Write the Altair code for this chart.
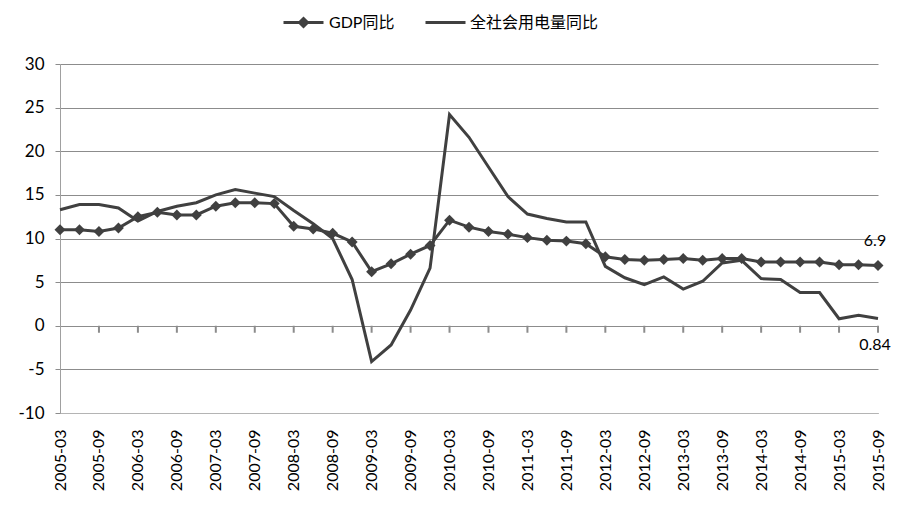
import altair as alt
import pandas as pd

quarters = [
    "2005-03", "2005-06", "2005-09", "2005-12",
    "2006-03", "2006-06", "2006-09", "2006-12",
    "2007-03", "2007-06", "2007-09", "2007-12",
    "2008-03", "2008-06", "2008-09", "2008-12",
    "2009-03", "2009-06", "2009-09", "2009-12",
    "2010-03", "2010-06", "2010-09", "2010-12",
    "2011-03", "2011-06", "2011-09", "2011-12",
    "2012-03", "2012-06", "2012-09", "2012-12",
    "2013-03", "2013-06", "2013-09", "2013-12",
    "2014-03", "2014-06", "2014-09", "2014-12",
    "2015-03", "2015-06", "2015-09",
]

gdp = [
    11.0, 11.0, 10.8, 11.2,
    12.5, 13.0, 12.7, 12.7,
    13.7, 14.1, 14.1, 14.0,
    11.4, 11.1, 10.6, 9.6,
    6.2, 7.1, 8.2, 9.2,
    12.1, 11.3, 10.8, 10.5,
    10.1, 9.8, 9.7, 9.4,
    7.9, 7.6, 7.5, 7.6,
    7.7, 7.5, 7.7, 7.7,
    7.3, 7.3, 7.3, 7.3,
    7.0, 7.0, 6.9,
]

elec = [
    13.3, 13.9, 13.9, 13.5,
    12.0, 13.1, 13.7, 14.1,
    15.0, 15.6, 15.2, 14.8,
    13.2, 11.7, 10.0, 5.3,
    -4.1, -2.2, 1.8, 6.6,
    24.2, 21.6, 18.2, 14.8,
    12.8, 12.3, 11.9, 11.9,
    6.8, 5.5, 4.7, 5.6,
    4.2, 5.1, 7.2, 7.5,
    5.4, 5.3, 3.8, 3.8,
    0.8, 1.2, 0.84,
]

tick_labels = [
    "2005-03", "2005-09", "2006-03", "2006-09", "2007-03", "2007-09",
    "2008-03", "2008-09", "2009-03", "2009-09", "2010-03", "2010-09",
    "2011-03", "2011-09", "2012-03", "2012-09", "2013-03", "2013-09",
    "2014-03", "2014-09", "2015-03", "2015-09",
]

y_ticks = [-10, -5, 0, 5, 10, 15, 20, 25, 30]

gdp_name = "GDP同比"
elec_name = "全社会用电量同比"

gdp_last_label = "6.9"
elec_last_label = "0.84"

FONT = "Lato, Noto Sans CJK SC, sans-serif"
DARK = "#404040"
GRID = "#8c8c8c"

gdp_df = pd.DataFrame({"quarter": quarters, "value": gdp, "series": gdp_name})
elec_df = pd.DataFrame({"quarter": quarters, "value": elec, "series": elec_name})
tick_df = pd.DataFrame({"quarter": tick_labels[1:], "base": 0.0})
gdp_annot_df = pd.DataFrame({"quarter": [quarters[-1]], "value": [gdp[-1]], "label": [gdp_last_label]})
elec_annot_df = pd.DataFrame({"quarter": [quarters[-1]], "value": [elec[-1]], "label": [elec_last_label]})

x_enc = alt.X(
    "quarter:O",
    sort=quarters,
    scale=alt.Scale(type="point", padding=0, domain=quarters),
    axis=alt.Axis(
        values=tick_labels,
        labelAngle=-90,
        labelFontSize=16,
        labelFont=FONT,
        labelColor="#000000",
        labelPadding=16,
        ticks=False,
        grid=False,
        domain=True,
        domainColor="#b4b4b4",
        title=None,
    ),
)

y_axis = alt.Axis(
    values=y_ticks,
    grid=True,
    gridColor=GRID,
    gridWidth=1,
    domainColor="#a0a0a0",
    tickColor=GRID,
    tickSize=5,
    labelFontSize=17,
    labelFont=FONT,
    labelColor="#000000",
    labelPadding=11,
    labelExpr="toString(datum.value)",
    title=None,
)
y_scale = alt.Scale(domain=[-10, 30], nice=False, zero=False)
y_enc = alt.Y("value:Q", scale=y_scale, axis=y_axis)

gdp_path = "M-1,0H1M0,-0.2L0.2,0L0,0.2L-0.2,0ZM0,-0.1L0.1,0L0,0.1L-0.1,0Z"

elec_line = alt.Chart(elec_df).mark_line(strokeWidth=3).encode(
    x=x_enc,
    y=y_enc,
    color=alt.Color(
        "series:N",
        scale=alt.Scale(domain=[elec_name], range=[DARK]),
        legend=alt.Legend(
            orient="none",
            legendX=364,
            legendY=-63,
            title=None,
            symbolType="stroke",
            symbolSize=1600,
            symbolStrokeWidth=3,
            labelFontSize=16,
            labelFont=FONT,
            labelColor="#000000",
            labelOffset=3,
        ),
    ),
)

gdp_line = alt.Chart(gdp_df).mark_line(strokeWidth=3).encode(
    x=x_enc,
    y=y_enc,
    color=alt.Color(
        "series:N",
        scale=alt.Scale(domain=[gdp_name], range=[DARK]),
        legend=alt.Legend(
            orient="none",
            legendX=222,
            legendY=-63,
            title=None,
            symbolType=gdp_path,
            symbolSize=1600,
            symbolStrokeWidth=3,
            labelFontSize=16,
            labelFont=FONT,
            labelColor="#000000",
            labelOffset=4,
        ),
    ),
)

gdp_pts = alt.Chart(gdp_df).mark_point(
    shape="diamond", filled=True, size=120, color=DARK, opacity=1
).encode(x=x_enc, y=y_enc)

zero_ticks = alt.Chart(tick_df).mark_tick(
    orient="vertical", size=7, thickness=2, yOffset=3.5, color=GRID, opacity=1
).encode(x=x_enc, y=alt.Y("base:Q", scale=y_scale, axis=y_axis))

gdp_annot = alt.Chart(gdp_annot_df).mark_text(
    fontSize=16, font=FONT, color="#000000", dx=-3, dy=-25
).encode(x=x_enc, y=y_enc, text="label:N")

elec_annot = alt.Chart(elec_annot_df).mark_text(
    fontSize=16, font=FONT, color="#000000", dx=-3, dy=27
).encode(x=x_enc, y=y_enc, text="label:N")

chart = (
    alt.layer(zero_ticks, elec_line, gdp_line, gdp_pts, gdp_annot, elec_annot)
    .resolve_scale(color="independent")
    .properties(
        width=818,
        height=349,
        autosize=alt.AutoSizeParams(type="none"),
        padding={"left": 60, "top": 64, "right": 22, "bottom": 104},
        background="#ffffff",
    )
    .configure_view(stroke=None)
)

chart.save("out.html", embed_options={"renderer": "svg", "actions": False})
